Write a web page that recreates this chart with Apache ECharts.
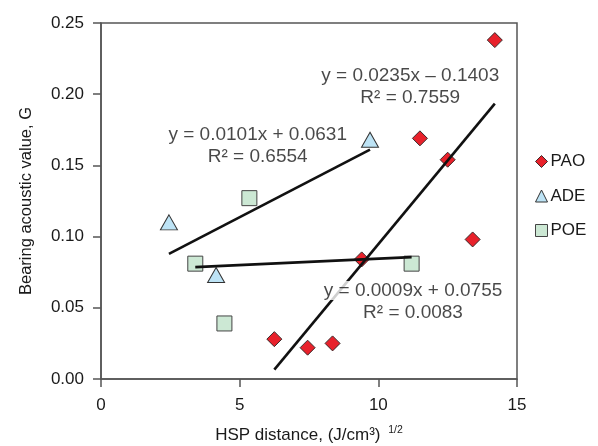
<!DOCTYPE html>
<html>
<head>
<meta charset="utf-8">
<script src="https://cdn.jsdelivr.net/npm/echarts@6/dist/echarts.min.js"></script>
<style>
html,body{margin:0;padding:0;background:#fff;}
#chart{width:598px;height:446px;}
</style>
</head>
<body>
<div id="chart"></div>
<script>
// ---- Data ----
var seriesNames = ['PAO', 'ADE', 'POE'];
var paoX = [14.2, 11.5, 12.5, 13.4, 9.4, 6.25, 7.45, 8.35];
var paoY = [0.238, 0.169, 0.154, 0.098, 0.084, 0.028, 0.022, 0.025];
var adeX = [2.45, 9.7, 4.15];
var adeY = [0.110, 0.168, 0.073];
var poeX = [5.35, 3.4, 11.2, 4.45];
var poeY = [0.127, 0.081, 0.081, 0.039];
// trend line coefficients (slope, intercept) as printed in the chart
var trendSlope = [0.0235, 0.0101, 0.0009];
var trendIntercept = [-0.1403, 0.0631, 0.0755];
var eqLine1 = ['y = 0.0235x \u2013 0.1403', 'y = 0.0101x + 0.0631', 'y = 0.0009x + 0.0755'];
var eqLine2 = ['R\u00b2 = 0.7559', 'R\u00b2 = 0.6554', 'R\u00b2 = 0.0083'];
// annotation anchors (data coordinates)
var eqAnchorX = [11.15, 5.65, 11.25];
var eqAnchorY = [0.205, 0.164, 0.0545];
var xTicks = [0, 5, 10, 15];
var yTicks = [0, 0.05, 0.10, 0.15, 0.20, 0.25];

var FONT = "'Liberation Sans', Arial, Helvetica, sans-serif";
var groupsX = [paoX, adeX, poeX];
var groupsY = [paoY, adeY, poeY];

function pts(xs, ys){ return xs.map(function(x,i){ return [x, ys[i]]; }); }
function trend(i){
  var xs = groupsX[i];
  var lo = Math.min.apply(null, xs), hi = Math.max.apply(null, xs);
  return [[lo, trendSlope[i]*lo + trendIntercept[i]], [hi, trendSlope[i]*hi + trendIntercept[i]]];
}

var markerStyles = [
  {symbol:'diamond', size:[15,15], color:'#e8212b', border:'#3a2a2a'},
  {symbol:'triangle', size:[17,15], color:'#bde3f5', border:'#333'},
  {symbol:'rect', size:[15,15], color:'#cce8d4', border:'#444'}
];

var series = [];
seriesNames.forEach(function(n, i){
  var m = markerStyles[i];
  series.push({
    name: n, type: 'scatter', z: 3,
    data: pts(groupsX[i], groupsY[i]),
    symbol: m.symbol, symbolSize: m.size,
    itemStyle: {color: m.color, borderColor: m.border, borderWidth: 1, opacity: 1},
    emphasis: {disabled: true}
  });
});
seriesNames.forEach(function(n, i){
  series.push({
    type: 'line', z: 4, data: trend(i), symbol: 'none', silent: true,
    lineStyle: {color: '#111', width: 2.6}
  });
});
var txt = {fontFamily: FONT, fontSize: 19, color: '#1a1a1a', lineHeight: 22, align: 'center', textBorderWidth: 0, textShadowBlur: 0};
seriesNames.forEach(function(n, i){
  series.push({
    type: 'scatter', z: 6, silent: true, symbolSize: 0,
    itemStyle: {color: 'transparent'},
    data: [[eqAnchorX[i], eqAnchorY[i]]],
    label: {
      show: true, position: 'inside', align: 'center', verticalAlign: 'middle',
      color: '#1a1a1a', textBorderWidth: 0, textBorderColor: 'transparent',
      formatter: '{' + (i === 2 ? 'bg' : 'a') + '|' + eqLine1[i] + '}\n{a|' + eqLine2[i] + '}',
      rich: {
        a: txt,
        bg: Object.assign({}, txt, {backgroundColor: '#fff'})
      }
    }
  });
});

var chart = echarts.init(document.getElementById('chart'), null, {renderer: 'canvas'});
chart.setOption({
  animation: false,
  backgroundColor: '#fff',
  grid: {left: 101, right: 81, top: 23, bottom: 67, containLabel: false, outerBoundsMode: 'none',
         show: true, borderColor: '#555', borderWidth: 1.5, backgroundColor: 'transparent'},
  legend: {
    data: seriesNames, orient: 'vertical', left: 530, top: 148,
    itemWidth: 12, itemHeight: 12, itemGap: 17.5, itemStyle: {borderWidth: 1},
    textStyle: {fontFamily: FONT, fontSize: 17, color: '#1a1a1a', padding: [0,0,0,-2]},
    selectedMode: false
  },
  xAxis: {
    type: 'value', min: xTicks[0], max: xTicks[xTicks.length-1], interval: 5,
    name: '{a|HSP distance, (J/cm\u00b3) }{s|1/2}', nameLocation: 'middle', nameGap: 46,
    nameTextStyle: {rich: {
      a: {fontFamily: FONT, fontSize: 17, color: '#1a1a1a', lineHeight: 20},
      s: {fontFamily: FONT, fontSize: 10.5, color: '#1a1a1a', verticalAlign: 'top', lineHeight: 20, padding:[0,0,10,3]}
    }},
    axisLine: {show: true, lineStyle: {color: '#555', width: 1.5}},
    axisTick: {show: true, inside: false, length: 8, lineStyle: {color: '#555', width: 1.5}},
    axisLabel: {fontFamily: FONT, fontSize: 17, color: '#1a1a1a', margin: 18},
    splitLine: {show: false}
  },
  yAxis: {
    type: 'value', min: yTicks[0], max: yTicks[yTicks.length-1], interval: 0.05,
    name: 'Bearing acoustic value, G', nameLocation: 'middle', nameGap: 66,
    nameTextStyle: {fontFamily: FONT, fontSize: 16.5, color: '#1a1a1a'},
    axisLine: {show: true, lineStyle: {color: '#555', width: 1.5}},
    axisTick: {show: true, inside: false, length: 8, lineStyle: {color: '#555', width: 1.5}},
    axisLabel: {fontFamily: FONT, fontSize: 17, color: '#1a1a1a', margin: 17, formatter: function(v){ return v.toFixed(2); }},
    splitLine: {show: false}
  },
  series: series
});
</script>
</body>
</html>
